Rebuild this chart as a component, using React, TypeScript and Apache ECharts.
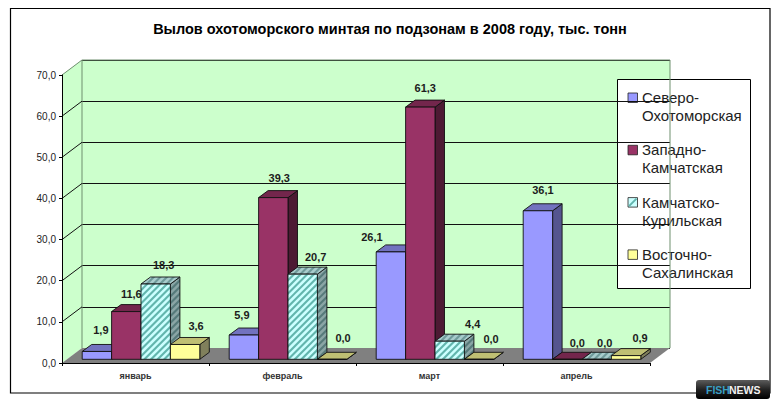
import React, { useEffect, useRef } from "react";
import * as echarts from "echarts";

const titleText = "Вылов охотоморского минтая по подзонам в 2008 году, тыс. тонн";
const categories = ["январь", "февраль", "март", "апрель"];
const yTicks = [0, 10, 20, 30, 40, 50, 60, 70];
const seriesNames = ["Северо-\nОхотоморская", "Западно-\nКамчатская", "Камчатско-\nКурильская", "Восточно-\nСахалинская"];
const northOkhotsk = [1.9, 5.9, 26.1, 36.1];
const westKamchatka = [11.6, 39.3, 61.3, 0.0];
const kamchatkaKuril = [18.3, 20.7, 4.4, 0.0];
const eastSakhalin = [3.6, 0.0, 0.0, 0.9];
const seriesValues = [northOkhotsk, westKamchatka, kamchatkaKuril, eastSakhalin];

// Layout and styling (not data)
const FONT = "'Liberation Sans', Arial, sans-serif";
const WALL_DX = 20;
const WALL_DY = -15;
const BAR_DX = 9.5;
const BAR_DY = -7;
const BAR_LIFT = 3.7;
const BAND_SHIFT = 5.5;
const faces = [
  { front: "#9999ff", top: "#7272bf", side: "#55558f" },
  { front: "#993366", top: "#73264c", side: "#4d1a33" },
  { front: "#ccffff", top: "#a8cccc", side: "#8aa5a5", stripe: "#62b5ad", stripeTop: "#6f9a9a", stripeSide: "#567a7a" },
  { front: "#ffff99", top: "#bfbf73", side: "#80805c" },
];
const labelShiftX = [
  [4, -2, -19, 5],
  [5, 6, 5, 10],
  [8, 13, 23, 8],
  [11, 11, 12, 14],
];
const labelShiftY = [
  [21, 20, 15, 21],
  [18, 20, 19, 16],
  [19, 17, 17, 16],
  [18, 21, 20, 18],
];

const fmt = (v: number) => v.toFixed(1).replace(".", ",");

function stripes(x0: number, x1: number, y0: number, y1: number, color: string) {
  const h = y1 - y0;
  const out: any[] = [];
  for (let c = x0 - h - 8; c < x1 + 8; c += 6.6) {
    out.push({
      type: "line",
      shape: { x1: c, y1: y1 + 1, x2: c + h + 2, y2: y0 - 1 },
      style: { stroke: color, lineWidth: 2.1 },
    });
  }
  return out;
}

function barRenderer(s: number) {
  return (params: any, api: any) => {
    const i = api.value(0);
    const v = api.value(1);
    const band = params.coordSys.width / categories.length;
    const w = band * 0.2;
    const [cx, yTopRaw] = api.coord([i, v]);
    const yBaseRaw = api.coord([i, 0])[1];
    const yt = yTopRaw - BAR_LIFT;
    const yb = yBaseRaw - BAR_LIFT;
    const x0 = cx - 2 * w + BAND_SHIFT + s * w;
    const x1 = x0 + w;
    const f: any = faces[s];
    const line = { stroke: "#111", lineWidth: 0.9, lineJoin: "round" };
    const sidePts = [[x1, yt], [x1 + BAR_DX, yt + BAR_DY], [x1 + BAR_DX, yb + BAR_DY], [x1, yb]];
    const topPts = [[x0, yt], [x0 + BAR_DX, yt + BAR_DY], [x1 + BAR_DX, yt + BAR_DY], [x1, yt]];
    const children: any[] = [];
    children.push({ type: "polygon", shape: { points: sidePts }, style: { fill: f.side } });
    if (f.stripe) {
      children.push({
        type: "group",
        clipPath: { type: "polygon", shape: { points: sidePts } },
        children: stripes(x1, x1 + BAR_DX, yt + BAR_DY, yb, f.stripeSide),
      });
    }
    children.push({ type: "polygon", shape: { points: sidePts }, style: { fill: "none", ...line } });
    children.push({ type: "polygon", shape: { points: topPts }, style: { fill: f.top } });
    if (f.stripe) {
      children.push({
        type: "group",
        clipPath: { type: "polygon", shape: { points: topPts } },
        children: stripes(x0, x1 + BAR_DX, yt + BAR_DY, yt, f.stripeTop),
      });
    }
    children.push({ type: "polygon", shape: { points: topPts }, style: { fill: "none", ...line } });
    const frontShape = { x: x0, y: yt, width: w, height: Math.max(yb - yt, 0) };
    children.push({ type: "rect", shape: frontShape, style: { fill: f.front } });
    if (f.stripe && yb > yt) {
      children.push({
        type: "group",
        clipPath: { type: "rect", shape: frontShape },
        children: stripes(x0, x1, yt, yb, f.stripe),
      });
    }
    children.push({ type: "rect", shape: frontShape, style: { fill: "none", ...line } });
    children.push({
      type: "text",
      style: {
        x: x0 + w / 2 + labelShiftX[s][i],
        y: yt - labelShiftY[s][i],
        text: fmt(v),
        align: "center",
        verticalAlign: "middle",
        font: `bold 11px ${FONT}`,
        fill: "#1c1c1c",
      },
    });
    return { type: "group", children };
  };
}

function wallsRenderer(params: any) {
  const { x, y, width, height } = params.coordSys;
  const bottom = y + height;
  return {
    type: "group",
    children: [
      {
        type: "polygon",
        shape: { points: [[x, y], [x + WALL_DX, y + WALL_DY], [x + WALL_DX, bottom + WALL_DY], [x, bottom]] },
        style: { fill: "#ccffcc" },
      },
      {
        type: "polygon",
        shape: {
          points: [[x, bottom], [x + WALL_DX, bottom + WALL_DY], [x + width + WALL_DX, bottom + WALL_DY], [x + width, bottom]],
        },
        style: { fill: "#808080" },
      },
      {
        type: "polyline",
        shape: { points: [[x + WALL_DX, bottom + WALL_DY], [x + WALL_DX, y + WALL_DY], [x + width + WALL_DX, y + WALL_DY], [x + width + WALL_DX, bottom + WALL_DY]] },
        style: { fill: "none", stroke: "#6f8f6f", lineWidth: 1 },
      },
    ],
  };
}

function diagonalRenderer(params: any, api: any) {
  const v = api.value(1);
  const yy = api.coord([0, v])[1];
  const x = params.coordSys.x;
  if (v === 0) return { type: "group", children: [] };
  return {
    type: "line",
    shape: { x1: x, y1: yy, x2: x + WALL_DX, y2: yy + WALL_DY },
    style: { stroke: v === 70 ? "#6f8f6f" : "#111", lineWidth: 1 },
  };
}

function legendElements() {
  const left = 617;
  const top = 79;
  const period = 52.3;
  const els: any[] = [
    { type: "rect", shape: { x: left + 0.5, y: top + 0.5, width: 133, height: 209 }, style: { fill: "#fff", stroke: "#000", lineWidth: 1 } },
  ];
  seriesNames.forEach((name, s) => {
    const ky = top + 14 + s * period;
    const f: any = faces[s];
    els.push({ type: "rect", shape: { x: left + 11, y: ky, width: 9.5, height: 9.5 }, style: { fill: f.front, stroke: "#222", lineWidth: 0.8 } });
    if (f.stripe) {
      els.push({ type: "line", shape: { x1: left + 12, y1: ky + 8.5, x2: left + 19.5, y2: ky + 1 }, style: { stroke: f.stripe, lineWidth: 2 } });
    }
    els.push({
      type: "text",
      style: {
        x: left + 25,
        y: top + 9.5 + s * period,
        text: name,
        font: `15px ${FONT}`,
        lineHeight: 18,
        fill: "#222",
        align: "left",
        verticalAlign: "top",
      },
    });
  });
  return els;
}

function buildOption(): any {
  const axisLine = { show: true, lineStyle: { color: "#000", width: 1 } };
  return {
    animation: false,
    backgroundColor: "#fff",
    title: {
      text: titleText,
      left: "center",
      top: 16,
      textStyle: { fontFamily: FONT, fontSize: 14.5, fontWeight: "bold", color: "#000" },
    },
    grid: [
      { left: 62, top: 75, width: 588, height: 288, show: false },
      { left: 82, top: 60, width: 588, height: 288, show: true, backgroundColor: "#ccffcc", borderWidth: 0 },
    ],
    xAxis: [
      {
        type: "category",
        gridIndex: 0,
        data: categories,
        z: 5,
        axisLine,
        axisTick: { show: true, length: 3, alignWithLabel: false, lineStyle: { color: "#000" } },
        axisLabel: { fontFamily: FONT, fontSize: 9, fontWeight: "bold", color: "#333", margin: 8 },
      },
      { type: "category", gridIndex: 1, data: categories, show: false },
    ],
    yAxis: [
      {
        type: "value",
        gridIndex: 0,
        min: 0,
        max: 70,
        interval: 10,
        z: 5,
        axisLine,
        axisTick: { show: true, length: 3, lineStyle: { color: "#000" } },
        axisLabel: { fontFamily: FONT, fontSize: 10, color: "#222", margin: 6, formatter: (v: number) => fmt(v) },
        splitLine: { show: false },
      },
      {
        type: "value",
        gridIndex: 1,
        min: 0,
        max: 70,
        interval: 10,
        axisLine: { show: false },
        axisTick: { show: false },
        axisLabel: { show: false },
        splitLine: { show: true, lineStyle: { color: "#111", width: 1 } },
      },
    ],
    series: [
      {
        type: "custom",
        name: "walls",
        xAxisIndex: 0,
        yAxisIndex: 0,
        z: 1,
        silent: true,
        data: [[0, 0]],
        renderItem: wallsRenderer,
      },
      {
        type: "custom",
        name: "wallTicks",
        xAxisIndex: 0,
        yAxisIndex: 0,
        z: 2,
        silent: true,
        data: yTicks.map((v) => [0, v]),
        renderItem: diagonalRenderer,
      },
      ...seriesValues.map((vals, s) => ({
        type: "custom",
        name: seriesNames[s],
        xAxisIndex: 0,
        yAxisIndex: 0,
        z: 3,
        data: vals.map((v, i) => [i, v]),
        renderItem: barRenderer(s),
      })),
    ],
    graphic: {
      z: 100,
      elements: [
        { type: "rect", shape: { x: 10.5, y: 8.5, width: 759.5, height: 384.5 }, style: { fill: "none", stroke: "#000", lineWidth: 1.2 } },
        ...legendElements(),
        {
          type: "rect",
          shape: { x: 696, y: 380, width: 74, height: 19, r: 3 },
          style: {
            fill: new echarts.graphic.LinearGradient(0, 0, 0, 1, [
              { offset: 0, color: "#5c5c5c" },
              { offset: 0.5, color: "#222" },
              { offset: 1, color: "#000" },
            ]),
          },
        },
        { type: "text", style: { x: 706, y: 390, text: "FISH", font: `bold 10.5px ${FONT}`, fill: "#3a9fc4", align: "left", verticalAlign: "middle" } },
        { type: "text", style: { x: 729, y: 390, text: "NEWS", font: `bold 10.5px ${FONT}`, fill: "#f2f2f2", align: "left", verticalAlign: "middle" } },
      ],
    },
  };
}

export default function App() {
  const ref = useRef<HTMLDivElement>(null);
  useEffect(() => {
    document.body.style.margin = "0";
    const chart = echarts.init(ref.current!, null, { renderer: "svg" });
    chart.setOption(buildOption());
    return () => chart.dispose();
  }, []);
  return <div ref={ref} style={{ width: 780, height: 409 }} />;
}
